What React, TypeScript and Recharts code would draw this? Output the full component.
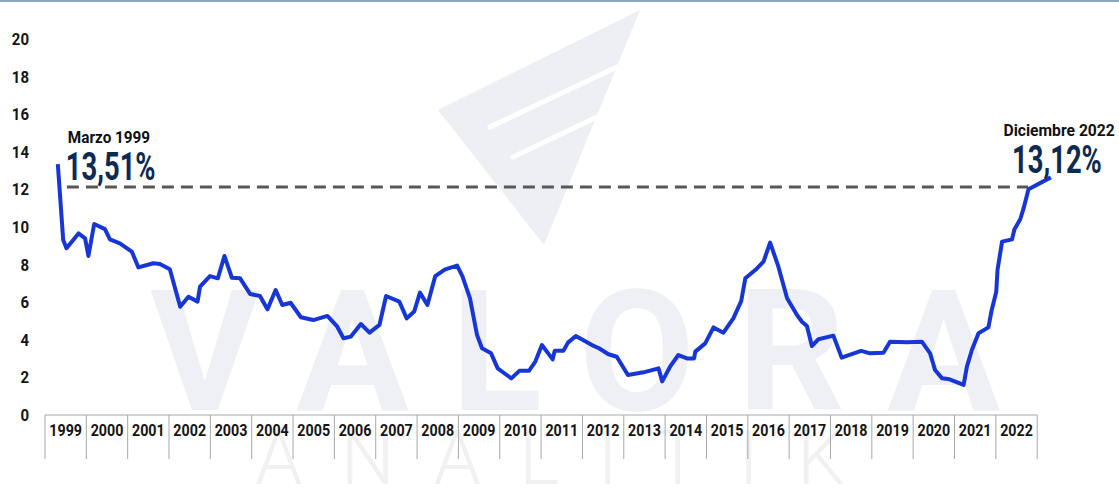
import { LineChart, Line, XAxis, YAxis, ReferenceLine, LabelList } from "recharts";

// fractional year positions, inflation in %
const T = [
  1999.31, 1999.44, 1999.52, 1999.81, 1999.97, 2000.05, 2000.19, 2000.45, 2000.57, 2000.81,
  2001.1, 2001.26, 2001.62, 2001.78, 2002.02, 2002.27, 2002.47, 2002.69, 2002.75, 2002.99,
  2003.18, 2003.34, 2003.52, 2003.72, 2003.96, 2004.2, 2004.38, 2004.58, 2004.74, 2004.94,
  2005.19, 2005.49, 2005.83, 2006.06, 2006.22, 2006.4, 2006.64, 2006.85, 2007.09, 2007.25,
  2007.57, 2007.75, 2007.93, 2008.07, 2008.25, 2008.44, 2008.68, 2008.97, 2009.1, 2009.28,
  2009.45, 2009.57, 2009.79, 2009.95, 2010.28, 2010.48, 2010.71, 2010.86, 2011.02, 2011.28,
  2011.33, 2011.54, 2011.65, 2011.84, 2012.23, 2012.4, 2012.63, 2012.83, 2013.1, 2013.48,
  2013.84, 2013.93, 2014.12, 2014.32, 2014.53, 2014.7, 2014.73, 2014.97, 2015.17, 2015.41,
  2015.65, 2015.84, 2015.94, 2016.18, 2016.38, 2016.54, 2016.74, 2016.95, 2017.19, 2017.31,
  2017.43, 2017.55, 2017.71, 2018.07, 2018.27, 2018.74, 2018.96, 2019.28, 2019.44, 2019.85,
  2020.21, 2020.41, 2020.53, 2020.7, 2020.88, 2021.22, 2021.3, 2021.42, 2021.58, 2021.82,
  2021.9, 2022.01, 2022.04, 2022.15, 2022.39, 2022.45, 2022.59, 2022.67, 2022.79, 2023.33,
];
const INFLACION = [
  13.35, 9.31, 8.87, 9.66, 9.4, 8.46, 10.16, 9.89, 9.34, 9.13,
  8.69, 7.85, 8.07, 8.03, 7.75, 5.76, 6.29, 6.03, 6.83, 7.39,
  7.27, 8.46, 7.3, 7.27, 6.44, 6.33, 5.62, 6.65, 5.85, 5.97,
  5.2, 5.05, 5.27, 4.73, 4.08, 4.17, 4.84, 4.38, 4.79, 6.33,
  6.03, 5.14, 5.5, 6.51, 5.85, 7.39, 7.75, 7.95, 7.36, 6.2,
  4.26, 3.55, 3.28, 2.48, 1.95, 2.36, 2.36, 2.84, 3.72, 2.96,
  3.42, 3.42, 3.85, 4.2, 3.72, 3.55, 3.23, 3.1, 2.13, 2.27,
  2.48, 1.79, 2.57, 3.19, 3.01, 3.01, 3.37, 3.81, 4.66, 4.38,
  5.14, 6.06, 7.27, 7.71, 8.16, 9.17, 7.89, 6.21, 5.32, 4.96,
  4.73, 3.67, 4.03, 4.22, 3.05, 3.41, 3.28, 3.31, 3.9, 3.87,
  3.9, 3.28, 2.39, 1.95, 1.9, 1.6, 2.57, 3.46, 4.35, 4.66,
  5.59, 6.56, 7.71, 9.22, 9.34, 9.88, 10.41, 10.99, 12.01, 12.64,
];
const YEARS = [
  1999, 2000, 2001, 2002, 2003, 2004, 2005, 2006, 2007, 2008, 2009, 2010, 2011,
  2012, 2013, 2014, 2015, 2016, 2017, 2018, 2019, 2020, 2021, 2022, 2023,
];
const Y_TICKS = [0, 2, 4, 6, 8, 10, 12, 14, 16, 18, 20];
const DASH_LEVEL = 12.13;
const DASH_FROM = 1999.53;
const DASH_TO = 2022.78;
const FIRST_LABEL = "Marzo 1999";
const FIRST_VALUE = "13,51%";
const LAST_LABEL = "Diciembre 2022";
const LAST_VALUE = "13,12%";

const data = T.map((t, i) => ({ t, v: INFLACION[i] }));

const W = 1119;
const H = 499;
const MARGIN = { top: 39, right: 57, left: 0, bottom: 0 };
const Y_AXIS_W = 45;
const X_MIN = 1999;
const X_MAX = 2023.6;
const PLOT_W = W - MARGIN.left - MARGIN.right - Y_AXIS_W;
const YEAR_W = PLOT_W / (X_MAX - X_MIN);

const FONT = "Roboto, Arial, sans-serif";
const LINE_COLOR = "#1736d8";
const NAVY = "#0c2a52";

// bold text squeezed horizontally, to imitate the condensed face of the original
function NarrowText({ x, y, sx, size, fill, anchor, children }: any) {
  return (
    <text
      transform={`translate(${x},${y}) scale(${sx},1)`}
      textAnchor={anchor || "start"}
      fontFamily={FONT}
      fontWeight={700}
      fontSize={size}
      fill={fill}
    >
      {children}
    </text>
  );
}

function YearTick(props: any) {
  const { x, y, payload } = props;
  const last = payload.value >= YEARS[YEARS.length - 1];
  return (
    <g>
      <line x1={x} y1={y} x2={x} y2={y + 44} stroke="#a8a8a8" strokeWidth={1} />
      {!last && (
        <>
          <line x1={x} y1={y} x2={x + YEAR_W} y2={y} stroke="#a8a8a8" strokeWidth={1} />
          <NarrowText x={x + YEAR_W / 2} y={y + 21} sx={0.84} size={17} fill="#151515" anchor="middle">
            {payload.value}
          </NarrowText>
        </>
      )}
    </g>
  );
}

function YTick(props: any) {
  const { x, y, payload } = props;
  return (
    <NarrowText x={x} y={y + 6} sx={0.88} size={17} fill="#151515" anchor="end">
      {payload.value}
    </NarrowText>
  );
}

function EndLabels(props: any) {
  const { x, y, index } = props;
  if (index === 0) {
    return (
      <g>
        <NarrowText x={x + 10} y={y - 21} sx={0.9} size={17} fill="#111">
          {FIRST_LABEL}
        </NarrowText>
        <NarrowText x={x + 8} y={y + 16} sx={0.72} size={38} fill={NAVY}>
          {FIRST_VALUE}
        </NarrowText>
      </g>
    );
  }
  if (index === data.length - 1) {
    return (
      <g>
        <NarrowText x={x + 64} y={y - 41} sx={0.98} size={16} fill="#111" anchor="end">
          {LAST_LABEL}
        </NarrowText>
        <NarrowText x={x + 51} y={y - 4} sx={0.72} size={38} fill={NAVY} anchor="end">
          {LAST_VALUE}
        </NarrowText>
      </g>
    );
  }
  return null;
}

function Watermark() {
  return (
    <svg width={W} height={H} style={{ position: "absolute", left: 0, top: 0 }}>
      <polygon points="438,110 640,10 544,245" fill="#eeeff4" />
      <line x1={490} y1={127} x2={617} y2={67} stroke="#fff" strokeWidth={5} strokeLinecap="round" />
      <line x1={513} y1={157} x2={597} y2={117} stroke="#fff" strokeWidth={5} strokeLinecap="round" />
      <text
        x={150}
        y={410}
        fontFamily={FONT}
        fontWeight={700}
        fontSize={168}
        fill="#eff0f6"
        textLength={850}
        lengthAdjust="spacing"
      >
        VALORA
      </text>
      <text
        x={255}
        y={484}
        fontFamily={FONT}
        fontWeight={300}
        fontSize={76}
        fill="#f1f1f3"
        textLength={590}
        lengthAdjust="spacing"
      >
        ANALITIK
      </text>
      <rect x={0} y={0} width={W} height={2} fill="#8aa7bf" />
    </svg>
  );
}

export default function App() {
  return (
    <div style={{ position: "absolute", left: 0, top: 0, width: W, height: H, background: "#fff" }}>
      <Watermark />
      <div style={{ position: "absolute", left: 0, top: 0 }}>
        <LineChart width={W} height={H} data={data} margin={MARGIN}>
          <YAxis
            type="number"
            domain={[0, 20]}
            ticks={Y_TICKS}
            width={Y_AXIS_W}
            axisLine={false}
            tickLine={false}
            tickMargin={10}
            tick={<YTick />}
            interval={0}
          />
          <XAxis
            type="number"
            dataKey="t"
            domain={[X_MIN, X_MAX]}
            ticks={YEARS}
            interval={0}
            height={84}
            axisLine={false}
            tickLine={false}
            tickSize={0}
            tickMargin={0}
            tick={<YearTick />}
          />
          <ReferenceLine
            segment={[
              { x: DASH_FROM, y: DASH_LEVEL },
              { x: DASH_TO, y: DASH_LEVEL },
            ]}
            stroke="#585858"
            strokeWidth={3}
            strokeDasharray="12 7"
          />
          <Line
            type="linear"
            dataKey="v"
            stroke={LINE_COLOR}
            strokeWidth={4}
            strokeLinejoin="round"
            dot={false}
            isAnimationActive={false}
          >
            <LabelList dataKey="v" content={<EndLabels />} />
          </Line>
        </LineChart>
      </div>
    </div>
  );
}
